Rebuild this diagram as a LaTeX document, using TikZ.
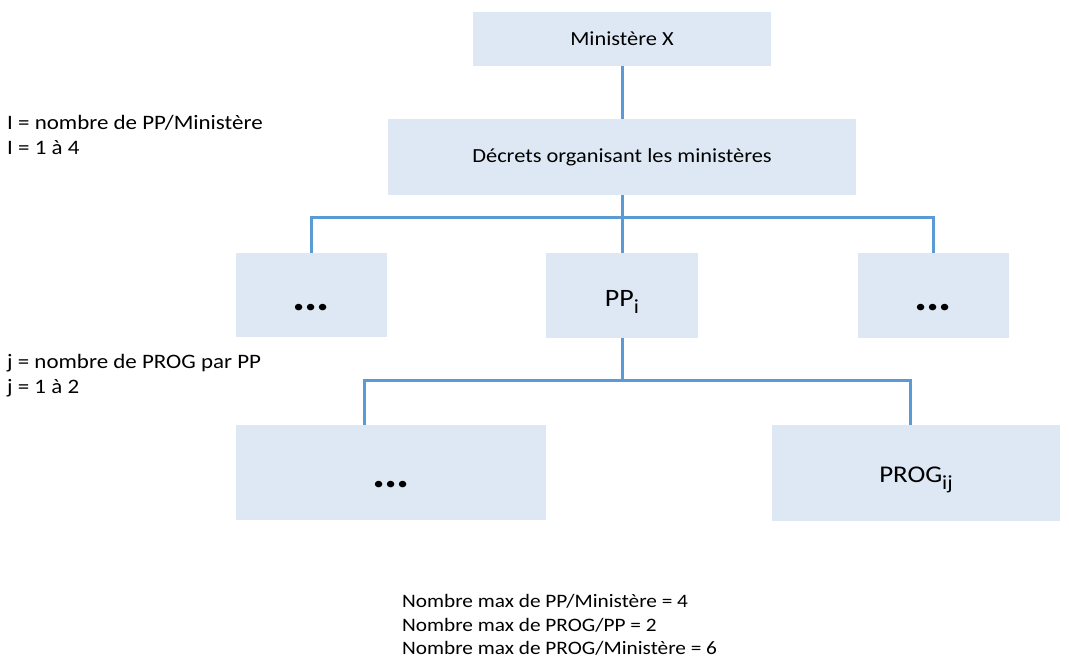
\documentclass[tikz,border=0pt]{standalone}
\usepackage{fontspec}
\setmainfont[FakeStretch=1.12]{Carlito}
\usetikzlibrary{calc}
\definecolor{boxblue}{HTML}{DEE8F4}
\definecolor{linkblue}{HTML}{5B9BD5}
\newcommand{\fs}[1]{\fontsize{#1}{#1}\selectfont}
\newcommand{\sub}[1]{\raisebox{-7pt}{\fs{20}#1}}
\newcommand{\ddd}{.\kern-1.2pt.\kern-1.2pt.}
\begin{document}
\begin{tikzpicture}[x=1pt,y=-1pt,
  box/.style={fill=boxblue,draw=none,inner sep=0pt,anchor=center},
  dots/.style={text height=30pt,text depth=0pt,font=\fs{44}\bfseries},
  note/.style={anchor=base west,inner sep=0pt,font=\fs{20.5}},
  foot/.style={anchor=base west,inner sep=0pt,font=\fs{19}},
  link/.style={draw=linkblue,line width=3pt}]
  \useasboundingbox (0,0) rectangle (1069,657);
  % hierarchy boxes
  \node[box,minimum width=298pt,minimum height=54pt,font=\fs{20}] (mx) at (622,39) {Ministère X};
  \node[box,minimum width=468pt,minimum height=76pt,font=\fs{20}] (dec) at (622,157) {Décrets organisant les ministères};
  \node[box,dots,minimum width=151pt,minimum height=84pt] (pl) at (311.5,295) {\ddd};
  \node[box,minimum width=152pt,minimum height=85pt,font=\fs{25},text height=21pt,text depth=0pt] (pp) at (622,295.5) {PP\sub{i}};
  \node[box,dots,minimum width=151pt,minimum height=85pt] (pr) at (933.5,295.5) {\ddd};
  \node[box,dots,minimum width=310pt,minimum height=95pt] (gl) at (391,472.5) {\ddd};
  \node[box,minimum width=288pt,minimum height=96pt,font=\fs{24},text height=18pt,text depth=0pt] (gr) at (916,473) {PROG\sub{ij}};
  % bus levels
  \coordinate (bus1) at (0,217);
  \coordinate (bus2) at (0,380);
  % connectors
  \draw[link] (mx.south) -- (dec.north);
  \draw[link] (dec.south) -- (pp.north);
  \draw[link] (pl.north) -- (pl.north |- bus1) -- (pr.north |- bus1) -- (pr.north);
  \draw[link] (pp.south) -- (pp.south |- bus2);
  \draw[link] ([xshift=-27pt]gl.north) -- ([xshift=-27pt]gl.north |- bus2)
     -- ([xshift=-6pt]gr.north |- bus2) -- ([xshift=-6pt]gr.north);
  % side notes
  \node[note] (n1a) at (7,129.5) {I = nombre de PP/Ministère};
  \node[note] (n1b) at (7,154.5) {I = 1 à 4};
  \node[note] (n2a) at (7,368.5) {j = nombre de PROG par PP};
  \node[note] (n2b) at (7,393.5) {j = 1 à 2};
  % totals
  \node[foot] (f1) at (402,607.5) {Nombre max de PP/Ministère = 4};
  \node[foot] (f2) at (402,631) {Nombre max de PROG/PP = 2};
  \node[foot] (f3) at (402,654) {Nombre max de PROG/Ministère = 6};
\end{tikzpicture}
\end{document}
